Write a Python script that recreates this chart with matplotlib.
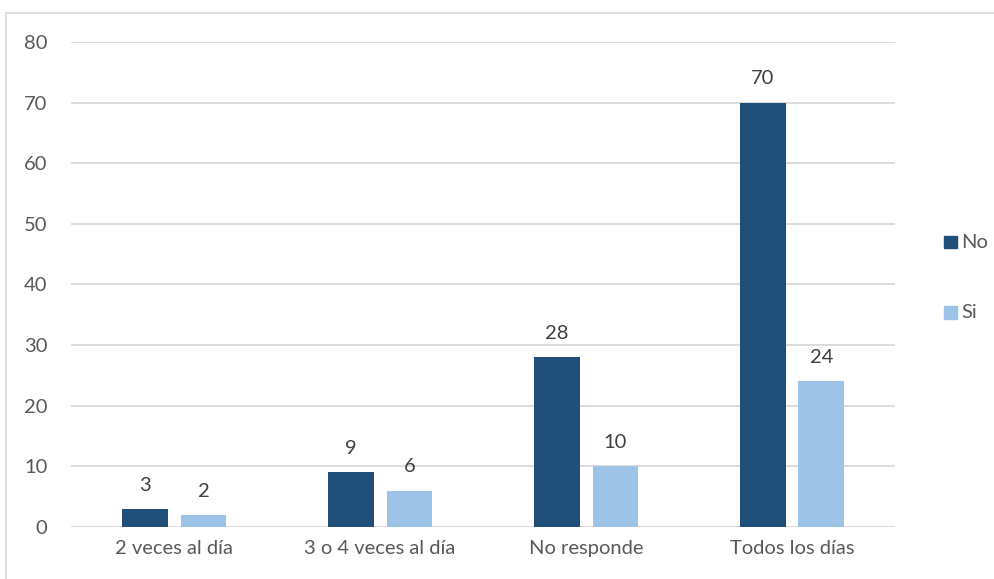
import numpy as np
import matplotlib.pyplot as plt
from matplotlib.patches import Rectangle

categories = ["2 veces al día", "3 o 4 veces al día", "No responde", "Todos los días"]
no_values = [3, 9, 28, 70]
si_values = [2, 6, 10, 24]
y_ticks = [0, 10, 20, 30, 40, 50, 60, 70, 80]

dark = "#1F4E79"
light = "#9DC3E6"
text_gray = "#595959"
grid_gray = "#D9D9D9"

plt.rcParams['font.family'] = ['Lato', 'DejaVu Sans']

fig = plt.figure(figsize=(9.95, 5.79), dpi=100)
ax = fig.add_axes([0.0714, 0.0898, 0.8281, 0.8377])

x = np.arange(len(categories))
w = 0.223
off = 0.143
bars_no = ax.bar(x - off, no_values, w, color=dark, zorder=3)
bars_si = ax.bar(x + off, si_values, w, color=light, zorder=3)

for bars, vals in ((bars_no, no_values), (bars_si, si_values)):
    for b, v in zip(bars, vals):
        ax.annotate(str(v), (b.get_x() + b.get_width() / 2, v),
                    xytext=(0, 11), textcoords="offset points",
                    ha="center", va="bottom", fontsize=14.5, color="#404040")

ax.set_xlim(-0.5, 3.5)
ax.set_ylim(0, 80)
ax.set_yticks(y_ticks)
ax.set_xticks(x)
ax.set_xticklabels(categories)
ax.tick_params(axis="both", length=0, labelsize=14.5, labelcolor=text_gray)
ax.tick_params(axis="y", pad=17)
ax.tick_params(axis="x", pad=9)
ax.grid(axis="y", color=grid_gray, linewidth=1.3, zorder=0)
for s in ax.spines.values():
    s.set_visible(False)

# legend drawn by hand on the right side
for label, color, yy in (("No", dark, 0.582), ("Si", light, 0.460)):
    fig.patches.append(Rectangle((0.9485, yy - 0.011), 0.013, 0.022,
                                 transform=fig.transFigure, color=color))
    fig.text(0.966, yy, label, fontsize=14.5, color=text_gray, va="center")

# outer chart border
fig.patches.append(Rectangle((0.006, -0.1), 1.1, 1.078, transform=fig.transFigure,
                             fill=False, edgecolor=grid_gray, linewidth=1.2))

fig.savefig("out.png", dpi=100)
